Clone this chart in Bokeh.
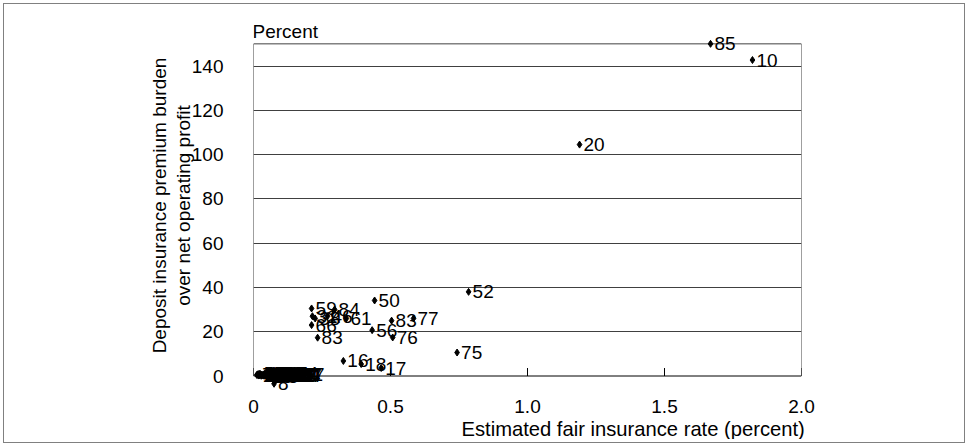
from bokeh.plotting import figure
from bokeh.models import (ColumnDataSource, LabelSet, Label, FixedTicker, Range1d,
                          CustomJSTickFormatter, Title)
from bokeh.core.properties import value
from bokeh.embed import file_html
from bokeh.resources import INLINE

# ---- data (bank id, estimated fair insurance rate %, premium burden / net operating profit %)
banks = [85, 10, 20, 52, 75, 77, 50, 83, 56, 76, 16, 18, 17,
         59, 84, 61, 31, 66, 83, 38, 46,
         1, 2, 3, 4, 5, 6, 7, 9, 11, 12, 13, 14, 15, 19, 21, 22, 23, 24, 25, 26,
         27, 28, 29, 30, 32, 33, 34, 35, 36, 37, 39, 40, 41, 42, 43, 44, 45, 47,
         48, 49, 51, 53, 54, 55, 57, 58, 60, 62, 63, 64, 65, 67, 68, 69, 70, 71,
         72, 73, 74, 78, 79, 80, 81, 82, 8]
fair_rate = [1.668, 1.821, 1.190, 0.785, 0.743, 0.584, 0.442, 0.504, 0.433, 0.508, 0.328, 0.393, 0.466,
             0.212, 0.296, 0.339, 0.215, 0.212, 0.234, 0.225, 0.270,
             0.021, 0.034, 0.047, 0.015, 0.062, 0.055, 0.028, 0.071, 0.083, 0.040, 0.092, 0.018, 0.101, 0.066,
             0.110, 0.038, 0.077, 0.123, 0.051, 0.087, 0.134, 0.025, 0.096, 0.058, 0.115, 0.043, 0.140,
             0.069, 0.031, 0.104, 0.080, 0.147, 0.012, 0.060, 0.119, 0.090, 0.036, 0.168, 0.074, 0.128,
             0.049, 0.098, 0.153, 0.023, 0.085, 0.112, 0.064, 0.137, 0.045, 0.094, 0.029, 0.158, 0.072,
             0.107, 0.053, 0.131, 0.017, 0.088, 0.144, 0.061, 0.117, 0.039, 0.162, 0.079, 0.075]
burden = [150.0, 142.7, 104.5, 38.0, 10.6, 26.0, 34.1, 25.0, 20.7, 17.4, 6.8, 5.4, 3.6,
          30.5, 30.0, 26.0, 27.0, 23.0, 17.3, 26.0, 27.0,
          0.3, 0.5, 0.2, 0.6, 0.4, 0.9, 0.1, 0.7, 0.3, 1.0, 0.5, 0.2, 0.8, 0.2,
          0.4, 0.7, 1.1, 0.3, 0.0, 0.6, 0.9, 0.8, 0.1, 0.5, 0.6, 0.3, 0.2,
          0.9, 0.4, 1.2, 0.4, 0.7, 0.5, 0.7, 0.1, 0.9, 0.2, 0.6, 0.5, 0.8,
          0.6, 0.3, 0.4, 1.0, 0.1, 0.9, 0.3, 0.5, 0.8, 0.6, 0.6, 0.3, 0.0,
          0.5, 0.2, 0.2, 0.9, 1.0, 1.0, 1.1, 0.7, 0.1, 0.8, 0.2, -3.5]
x_ticks = [0, 0.5, 1.0, 1.5, 2.0]
y_ticks = [0, 20, 40, 60, 80, 100, 120, 140]
y_title_1 = "Deposit insurance premium burden"
y_title_2 = "over net operating profit"
x_title = "Estimated fair insurance rate (percent)"
unit_label = "Percent"

# ---- axis extents of the chart box
X_MIN, X_MAX = 0, 2
Y_MIN, Y_MAX = 0, 150

FONT = "Liberation Sans"
FS = "19px"
GRID = "#404040"

src = ColumnDataSource(dict(x=fair_rate, y=burden, label=[str(b) for b in banks]))

# frame is a little taller than the box so labels near the edges are not clipped
p = figure(width=954, height=432, x_range=Range1d(X_MIN, X_MAX), y_range=Range1d(-7, 161),
           output_backend="svg", toolbar_location=None,
           min_border_left=246, min_border_right=160, min_border_top=12, min_border_bottom=46)
p.styles = {"margin-left": "7px", "margin-top": "7px",
            "outline": "1px solid #808080", "outline-offset": "3px"}
p.background_fill_color = "white"
p.border_fill_color = "white"
p.outline_line_color = None

p.xgrid.visible = False
p.ygrid.ticker = FixedTicker(ticks=y_ticks[1:])
p.ygrid.grid_line_color = GRID

xa = p.xaxis[0]
xa.ticker = FixedTicker(ticks=x_ticks)
xa.formatter = CustomJSTickFormatter(code="return tick == 0 ? '0' : tick.toFixed(1);")
xa.major_tick_line_color = None
xa.minor_tick_line_color = None
xa.axis_line_color = None
xa.major_label_standoff = 2
xa.major_label_text_font = FONT
xa.major_label_text_font_size = FS
xa.major_label_text_color = "black"

ya = p.yaxis[0]
ya.ticker = FixedTicker(ticks=y_ticks)
ya.major_tick_line_color = None
ya.minor_tick_line_color = None
ya.axis_line_color = None
ya.major_label_standoff = 24
ya.major_label_text_font = FONT
ya.major_label_text_font_size = FS
ya.major_label_text_color = "black"

# chart box: top and right edges, y axis line, x axis line
box = ColumnDataSource(dict(x0=[X_MIN, X_MAX, X_MIN], y0=[Y_MAX, Y_MIN, Y_MIN],
                            x1=[X_MAX, X_MAX, X_MIN], y1=[Y_MAX, Y_MAX, Y_MAX]))
p.segment(x0="x0", y0="y0", x1="x1", y1="y1", source=box, line_color=GRID, line_width=1)
p.segment(x0=X_MIN, y0=Y_MIN, x1=X_MAX, y1=Y_MIN, line_color="black", line_width=1)
# inward tick marks on the x axis
tick_src = ColumnDataSource(dict(x=x_ticks, y0=[Y_MIN] * len(x_ticks), y1=[Y_MIN + 3.6] * len(x_ticks)))
p.segment(x0="x", y0="y0", x1="x", y1="y1", source=tick_src, line_color="black", line_width=1)

p.scatter(x="x", y="y", source=src, marker="diamond", size=7, color="black")
p.add_layout(LabelSet(x="x", y="y", text="label", source=src, x_offset=4, y_offset=0,
                      text_baseline="middle", text_align="left",
                      text_font=value(FONT), text_font_size=FS, text_color="black"))

p.add_layout(Label(x=X_MIN, y=Y_MAX, x_offset=-1, y_offset=12, text=unit_label,
                   text_align="left", text_baseline="alphabetic",
                   text_font=FONT, text_font_size=FS, text_color="black"))

p.add_layout(Title(text=y_title_2, align="center", text_font=FONT, text_font_size=FS,
                   text_font_style="normal", text_color="black", standoff=-11), "left")
p.add_layout(Title(text=y_title_1, align="center", text_font=FONT, text_font_size=FS,
                   text_font_style="normal", text_color="black", standoff=13), "left")
p.add_layout(Title(text=x_title, align="left", offset=208, text_font=FONT, text_font_size="20.2px",
                   text_font_style="normal", text_color="black", standoff=0), "below")

open("out.html", "w").write(file_html(p, INLINE))
